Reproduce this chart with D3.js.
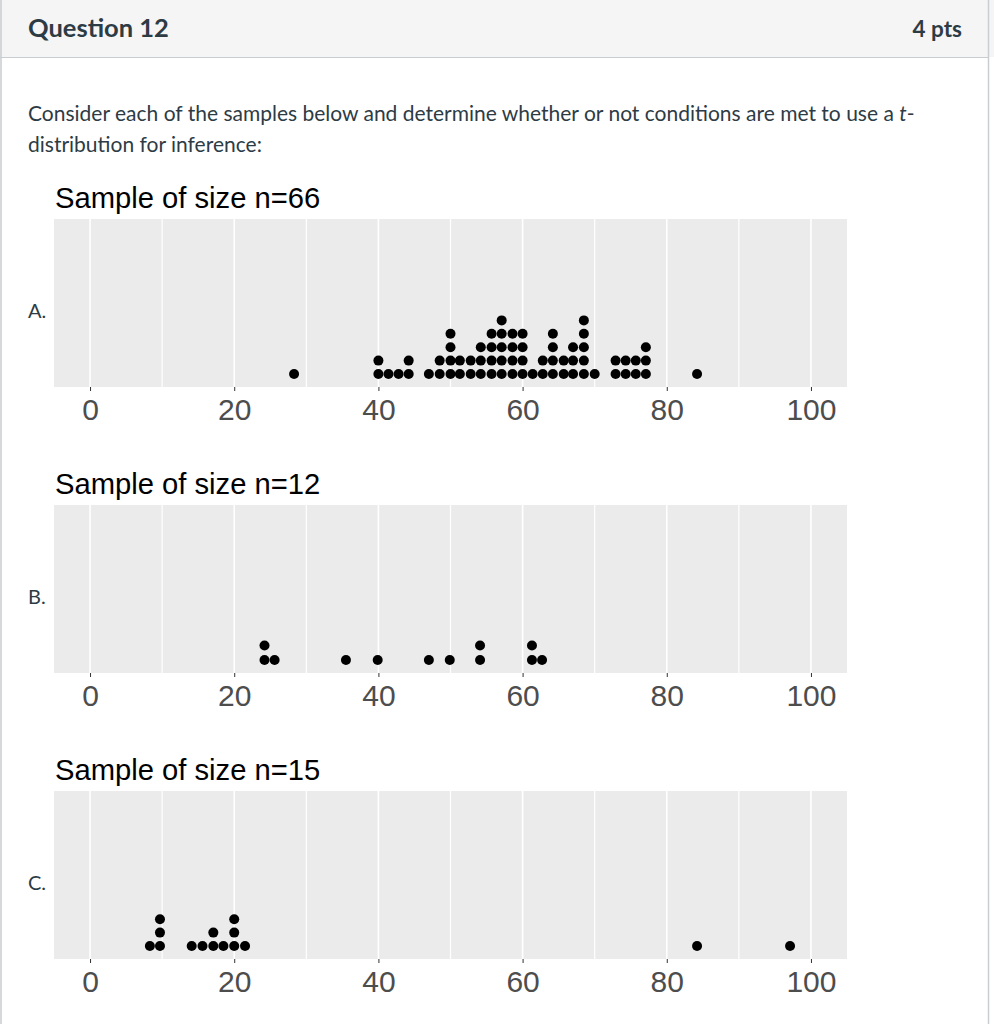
<!DOCTYPE html>
<html>
<head>
<meta charset="utf-8">
<script src="https://cdn.jsdelivr.net/npm/d3@7"></script>
<style>
  html, body { margin: 0; padding: 0; background: #ffffff; }
  svg { display: block; }
</style>
</head>
<body>
<svg id="chart" width="994" height="1024"></svg>
<script>
// ---------- data ----------
const panelTitles = ["Sample of size n=66", "Sample of size n=12", "Sample of size n=15"];
const panelLetters = ["A.", "B.", "C."];
const tickValues = [0, 20, 40, 60, 80, 100];
const minorValues = [10, 30, 50, 70, 90];

// dot stacks: bin centre (value) and number of stacked dots
const binsA   = [28.3, 40.0, 41.4, 42.8, 44.2, 47.0, 48.5, 50.0, 51.3, 52.8, 54.2, 55.7, 57.1, 58.6, 60.0, 61.4, 62.8, 64.2, 65.7, 67.0, 68.5, 70.0, 72.9, 74.3, 75.7, 77.1, 84.2];
const countsA = [1,    2,    1,    1,    2,    1,    2,    4,    2,    2,    3,    4,    5,    4,    4,    1,    2,    4,    2,    3,    5,    1,    2,    2,    2,    3,    1];

const binsB   = [24.2, 25.6, 35.5, 39.9, 47.0, 49.9, 54.1, 61.3, 62.7];
const countsB = [2,    1,    1,    1,    1,    1,    2,    2,    1];

const binsC   = [8.3, 9.7, 14.1, 15.6, 17.1, 18.5, 20.0, 21.5, 84.2, 97.1];
const countsC = [1,   3,   1,    1,    2,    1,    3,    1,    1,    1];

const headerTitle = "Question 12";
const headerPoints = "4 pts";
const promptLine1 = ["Consider each of the samples below and determine whether or not conditions are met to use a ", "t", "-"];
const promptLine2 = "distribution for inference:";

// ---------- layout ----------
const svg = d3.select("#chart");
const W = 994;
const panelLeft = 54, panelRight = 847, panelH = 168;
const panelTops = [219, 505, 791];
const stackGap = [13.4, 14.5, 13.4];
const dotR = 5;

const x = d3.scaleLinear().domain([-5, 105]).range([panelLeft, panelRight]);

// page frame
svg.append("rect").attr("x", 0).attr("y", 0).attr("width", W).attr("height", 57).attr("fill", "#f5f5f5");
svg.append("line").attr("x1", 0).attr("x2", 989).attr("y1", 57.5).attr("y2", 57.5).attr("stroke", "#c7cdd1").attr("stroke-width", 1);
svg.append("line").attr("x1", 1).attr("x2", 1).attr("y1", 0).attr("y2", 1024).attr("stroke", "#c7cdd1").attr("stroke-width", 1.5);
svg.append("line").attr("x1", 988.5).attr("x2", 988.5).attr("y1", 0).attr("y2", 1024).attr("stroke", "#c7cdd1").attr("stroke-width", 1.5);

const canvasFont = "Lato, 'Open Sans', sans-serif";
svg.append("text").attr("x", 28).attr("y", 37).attr("font-family", canvasFont)
  .attr("font-weight", 700).attr("font-size", 25.5).attr("fill", "#2d3b45").text(headerTitle);
svg.append("text").attr("x", 962).attr("y", 37).attr("text-anchor", "end").attr("font-family", canvasFont)
  .attr("font-weight", 700).attr("font-size", 22.5).attr("fill", "#2d3b45").text(headerPoints);

const l1 = svg.append("text").attr("x", 28).attr("y", 121).attr("font-family", canvasFont)
  .attr("font-size", 21).attr("fill", "#2d3b45");
l1.append("tspan").text(promptLine1[0]);
l1.append("tspan").attr("font-style", "italic").text(promptLine1[1]);
l1.append("tspan").text(promptLine1[2]);
svg.append("text").attr("x", 28).attr("y", 152).attr("font-family", canvasFont)
  .attr("font-size", 21).attr("fill", "#2d3b45").text(promptLine2);

const panels = [
  { bins: binsA, counts: countsA },
  { bins: binsB, counts: countsB },
  { bins: binsC, counts: countsC }
];

const ggFont = "'Liberation Sans', Arial, sans-serif";

panels.forEach((p, i) => {
  const top = panelTops[i];
  const g = svg.append("g");
  const bottom = top + panelH;

  g.append("text").attr("x", panelLeft + 1).attr("y", top - 11).attr("font-family", ggFont)
    .attr("font-size", 29.2).attr("fill", "#000").text(panelTitles[i]);

  svg.append("text").attr("x", 28).attr("y", top + 99).attr("font-family", canvasFont)
    .attr("font-size", 20).attr("fill", "#2d3b45").text(panelLetters[i]);

  g.append("rect").attr("x", panelLeft).attr("y", top).attr("width", panelRight - panelLeft)
    .attr("height", panelH).attr("fill", "#ebebeb");

  g.selectAll(".minor").data(minorValues).join("line")
    .attr("x1", d => x(d)).attr("x2", d => x(d)).attr("y1", top).attr("y2", bottom)
    .attr("stroke", "#ffffff").attr("stroke-width", 1.2);
  g.selectAll(".major").data(tickValues).join("line")
    .attr("x1", d => x(d)).attr("x2", d => x(d)).attr("y1", top).attr("y2", bottom)
    .attr("stroke", "#ffffff").attr("stroke-width", 1.6);

  // axis
  const axis = d3.axisBottom(x).tickValues(tickValues).tickSize(4).tickPadding(8).tickFormat(d3.format("d"));
  const ag = g.append("g").attr("transform", `translate(0,${bottom})`).call(axis);
  ag.select(".domain").remove();
  ag.selectAll(".tick line").attr("stroke", "#333333").attr("stroke-width", 1);
  ag.selectAll(".tick text").attr("font-family", ggFont).attr("font-size", 30)
    .attr("fill", "#4d4d4d").attr("dy", "0.71em");

  // dots
  const dots = [];
  p.bins.forEach((b, j) => {
    for (let k = 0; k < p.counts[j]; k++) dots.push({ v: b, k });
  });
  g.selectAll(".dot").data(dots).join("circle")
    .attr("cx", d => x(d.v))
    .attr("cy", d => bottom - 13 - d.k * stackGap[i])
    .attr("r", dotR)
    .attr("fill", "#000");
});
</script>
</body>
</html>
